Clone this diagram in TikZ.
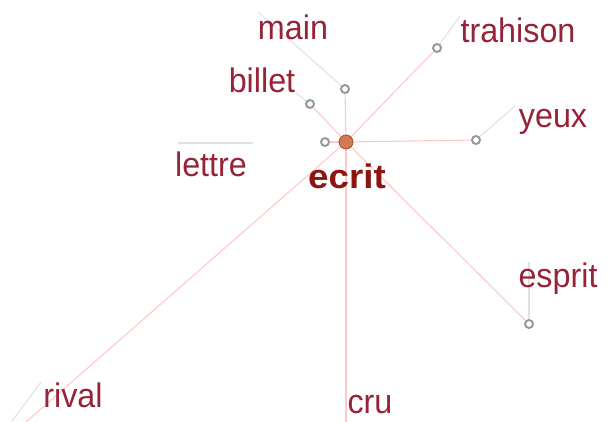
\documentclass[tikz,border=0pt]{standalone}
\usepackage{fontspec}
\setmainfont{Liberation Sans}
\newfontfamily\wordfont[FakeStretch=0.95]{Liberation Sans}
\newfontfamily\hubfont[FakeStretch=1.08]{Liberation Sans}
\definecolor{wordcol}{RGB}{150,35,55}
\definecolor{hubtext}{RGB}{140,22,15}
\definecolor{pinkline}{RGB}{255,200,200}
\definecolor{greyline}{RGB}{225,225,225}
\definecolor{ringcol}{RGB}{150,150,150}
\definecolor{hubfill}{RGB}{210,120,85}
\definecolor{hubdraw}{RGB}{170,75,45}
\tikzset{
  word/.style={anchor=base, inner sep=0pt, text=wordcol, font=\wordfont\fontsize{34}{34}\selectfont},
  hubword/.style={anchor=base, inner sep=0pt, text=hubtext, font=\hubfont\bfseries\fontsize{34}{34}\selectfont},
  ring/.style={circle, draw=ringcol, line width=1.9pt, fill=white, minimum size=8pt, inner sep=0pt},
  hub/.style={circle, draw=hubdraw, line width=0.8pt, fill=hubfill, minimum size=14pt, inner sep=0pt},
  pinkedge/.style={draw=pinkline, line width=1.1pt},
  greyedge/.style={draw=greyline, line width=1.1pt}
}
\begin{document}
\begin{tikzpicture}[x=1pt,y=-1pt]
\useasboundingbox (0,0) rectangle (607,422);
% end points
\coordinate (mainEnd) at (258,12);
\coordinate (billetEnd) at (296,93);
\coordinate (lettreA) at (178,143);
\coordinate (lettreB) at (253,143);
\coordinate (trahisonEnd) at (460,16);
\coordinate (yeuxEnd) at (515,106);
\coordinate (espritEnd) at (529,262);
\coordinate (rivalEnd) at (26,422);
\coordinate (rivalGA) at (41,382);
\coordinate (rivalGB) at (12,421);
\coordinate (cruEnd) at (346,422);
% grey connectors
\draw[greyedge] (mainEnd) -- (345,89);
\draw[greyedge] (billetEnd) -- (310,104);
\draw[greyedge] (lettreA) -- (lettreB);
\draw[greyedge] (trahisonEnd) -- (437,48);
\draw[greyedge] (yeuxEnd) -- (476,140);
\draw[greyedge] (espritEnd) -- (529,324);
\draw[greyedge] (rivalGA) -- (rivalGB);
% rings
\node[ring] (rmain) at (345,89) {};
\node[ring] (rbillet) at (310,104) {};
\node[ring] (rlettre) at (325,142) {};
\node[ring] (rtrahison) at (437,48) {};
\node[ring] (ryeux) at (476,140) {};
\node[ring] (resprit) at (529,324) {};
% hub
\coordinate (hubc) at (346,142);
% pink connectors
\draw[pinkedge] (hubc) -- (rmain);
\draw[pinkedge] (hubc) -- (rbillet);
\draw[pinkedge] (hubc) -- (rlettre);
\draw[pinkedge] (hubc) -- (rtrahison);
\draw[pinkedge] (hubc) -- (ryeux);
\draw[pinkedge] (hubc) -- (resprit);
\draw[pinkedge] (hubc) -- (rivalEnd);
\draw[pinkedge] (hubc) -- (cruEnd);
\node[hub] (hub) at (hubc) {};
% labels
\node[word] (main) at (293,40) {main};
\node[word] (trahison) at (518,43) {trahison};
\node[word] (billet) at (262,93) {billet};
\node[word] (yeux) at (553,128) {yeux};
\node[word] (lettre) at (211,177) {lettre};
\node[hubword] (ecrit) at (347,189) {ecrit};
\node[word] (esprit) at (558,287) {esprit};
\node[word] (rival) at (73,407) {rival};
\node[word] (cru) at (370,413) {cru};
\end{tikzpicture}
\end{document}
